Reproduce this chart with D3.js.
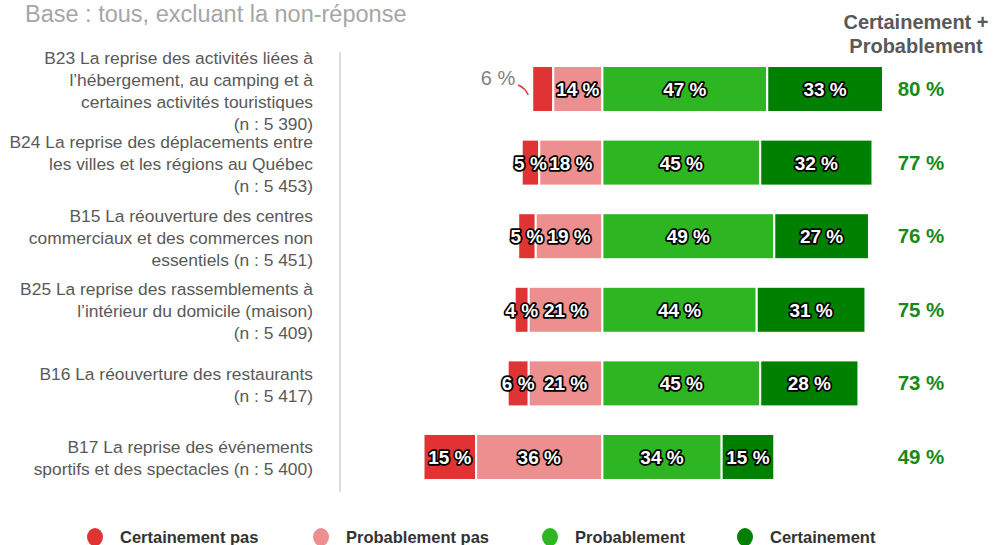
<!DOCTYPE html>
<html>
<head>
<meta charset="utf-8">
<script src="https://cdn.jsdelivr.net/npm/d3@7"></script>
<style>
body { margin: 0; background: #fff; }
svg { font-family: "Liberation Sans", Arial, sans-serif; }
.seg { font-weight: bold; fill: #fff; stroke: #000; stroke-width: 3.5px; paint-order: stroke; stroke-linejoin: round; }
</style>
</head>
<body>
<svg id="svg"></svg>
<script>
var width = 1000, height = 545;

var categories = [
	["B23 La reprise des activités liées à", "l’hébergement, au camping et à", "certaines activités touristiques", "(n : 5 390)"],
	["B24 La reprise des déplacements entre", "les villes et les régions au Québec", "(n : 5 453)"],
	["B15 La réouverture des centres", "commerciaux et des commerces non", "essentiels (n : 5 451)"],
	["B25 La reprise des rassemblements à", "l’intérieur du domicile (maison)", "(n : 5 409)"],
	["B16 La réouverture des restaurants", "(n : 5 417)"],
	["B17 La reprise des événements", "sportifs et des spectacles (n : 5 400)"]
];
var certainementPas = [6, 5, 5, 4, 6, 15];
var probablementPas = [14, 18, 19, 21, 21, 36];
var probablement = [47, 45, 49, 44, 45, 34];
var certainement = [33, 32, 27, 31, 28, 15];
var totals = [80, 77, 76, 75, 73, 49];
var keys = ["Certainement pas", "Probablement pas", "Probablement", "Certainement"];
var colors = ["#e03434", "#ee8f8f", "#2db522", "#008000"];

var svg = d3.select("#svg").attr("width", width).attr("height", height);

var x = d3.scaleLinear().domain([-50, 80]).range([427, 883]);
var y = d3.scaleBand().domain(d3.range(categories.length)).range([51.3, 494.7]).paddingInner(0.375).paddingOuter(0.2);

// build stacked segments from the arrays
var rows = categories.map(function(c, i) {
	var vals = [certainementPas[i], probablementPas[i], probablement[i], certainement[i]];
	var segs = [];
	var left = -(vals[0] + vals[1]);
	vals.forEach(function(v, k) {
		segs.push({row: i, key: k, v: v, x0: left, x1: left + v});
		left += v;
	});
	return segs;
});

svg.append("text")
	.attr("x", 25).attr("y", 22)
	.attr("font-size", 23.5).attr("fill", "#a6a6a6")
	.text("Base : tous, excluant la non-réponse");

svg.append("line")
	.attr("x1", 340).attr("x2", 340).attr("y1", 52).attr("y2", 492)
	.attr("stroke", "#c9d3e3").attr("stroke-width", 1.5);

// category labels
var lab = svg.append("g").attr("font-size", 17.4).attr("fill", "#595959").attr("text-anchor", "end");
categories.forEach(function(lines, i) {
	var cy = y(i) + y.bandwidth() / 2;
	var lh = 22;
	var start = cy + 1.5 - (lines.length - 1) * lh / 2 + 6;
	lines.forEach(function(t, j) {
		lab.append("text").attr("x", 313).attr("y", start + j * lh).text(t);
	});
});

var seg = svg.append("g").selectAll("g")
	.data(rows).enter().append("g");

seg.selectAll("rect")
	.data(function(d) { return d; })
	.enter().append("rect")
	.attr("x", function(d) { return x(d.x0); })
	.attr("y", function(d) { return y(d.row); })
	.attr("width", function(d) { return x(d.x1) - x(d.x0); })
	.attr("height", y.bandwidth())
	.attr("fill", function(d) { return colors[d.key]; })
	.attr("stroke", "#fff").attr("stroke-width", 2);

seg.selectAll("text")
	.data(function(d) { return d.filter(function(s) { return !(s.row == 0 && s.key == 0); }); })
	.enter().append("text")
	.attr("class", "seg")
	.attr("font-size", 19)
	.attr("text-anchor", "middle")
	.attr("x", function(d) { return x((d.x0 + d.x1) / 2); })
	.attr("y", function(d) { return y(d.row) + y.bandwidth() / 2 + 7; })
	.text(function(d) { return d.v + " %"; });

// outside label for the first small segment
var s0 = rows[0][0];
svg.append("text")
	.attr("x", x(s0.x0) - 17).attr("y", y(0) + 19)
	.attr("font-size", 20).attr("fill", "#7f7f7f").attr("text-anchor", "end")
	.text(s0.v + " %");
svg.append("path")
	.attr("d", "M" + (x(s0.x0) - 14) + "," + (y(0) + 19) + " Q" + (x(s0.x0) - 7) + "," + (y(0) + 22) + " " + (x(s0.x0) - 4) + "," + (y(0) + 29))
	.attr("fill", "none").attr("stroke", "#e03434").attr("stroke-width", 1.5);

// totals
svg.append("text")
	.attr("x", 916).attr("y", 29)
	.attr("font-size", 20).attr("font-weight", "bold").attr("fill", "#595959").attr("text-anchor", "middle")
	.text("Certainement +");
svg.append("text")
	.attr("x", 916).attr("y", 53)
	.attr("font-size", 20).attr("font-weight", "bold").attr("fill", "#595959").attr("text-anchor", "middle")
	.text("Probablement");

svg.append("g").selectAll("text")
	.data(totals).enter().append("text")
	.attr("x", 921)
	.attr("y", function(d, i) { return y(i) + y.bandwidth() / 2 + 7; })
	.attr("font-size", 20.5).attr("font-weight", "bold").attr("fill", "#178a17").attr("text-anchor", "middle")
	.text(function(d) { return d + " %"; });

// legend
var legX = [95, 321, 550, 745];
var legend = svg.append("g").selectAll("g")
	.data(keys).enter().append("g")
	.attr("transform", function(d, i) { return "translate(" + legX[i] + ",537)"; });
legend.append("ellipse")
	.attr("rx", 8).attr("ry", 9)
	.attr("fill", function(d, i) { return colors[i]; });
legend.append("text")
	.attr("x", 25).attr("y", 6)
	.attr("font-size", 16.5).attr("font-weight", "bold").attr("fill", "#333")
	.text(function(d) { return d; });
</script>
</body>
</html>
